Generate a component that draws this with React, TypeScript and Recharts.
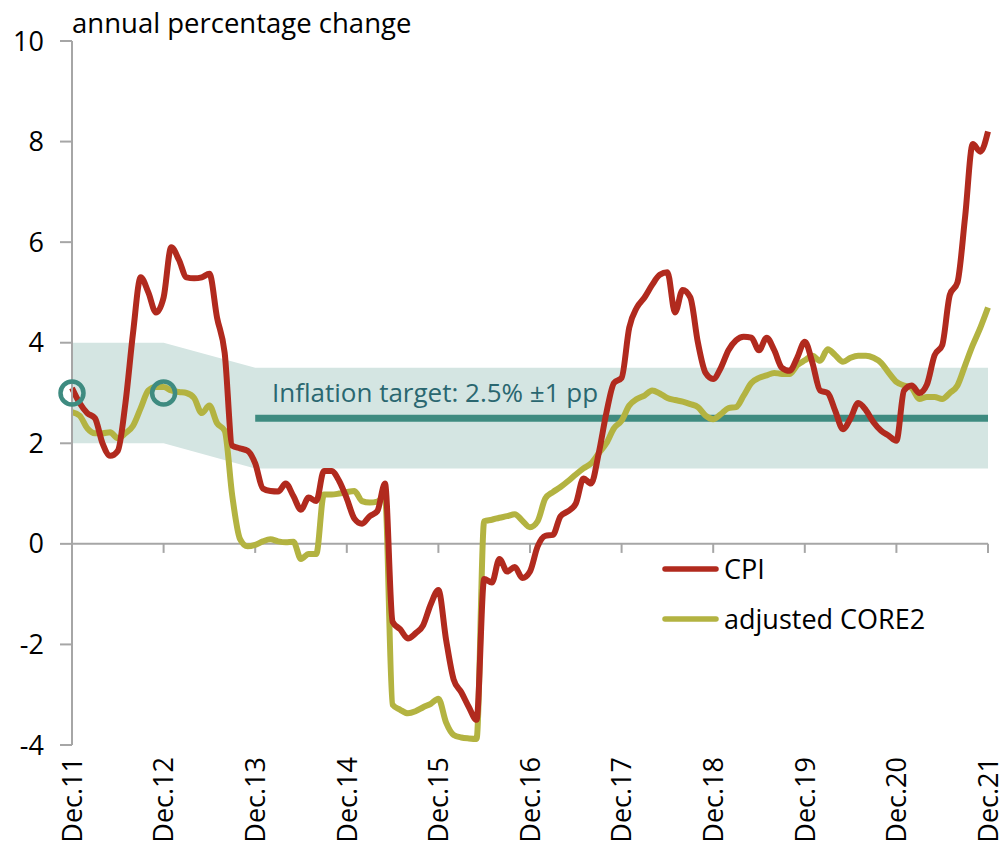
import React from "react";
import { ComposedChart, Line, Area, XAxis, YAxis, ReferenceLine } from "recharts";

// monthly, Dec 2011 .. Dec 2021 (121 points)
const tickIdx = [0, 12, 24, 36, 48, 60, 72, 84, 96, 108, 120];
const tickLabels = ["Dec.11", "Dec.12", "Dec.13", "Dec.14", "Dec.15", "Dec.16", "Dec.17", "Dec.18", "Dec.19", "Dec.20", "Dec.21"];
const yTicks = [-4, -2, 0, 2, 4, 6, 8, 10];

const cpi = [
  3.1, 2.8, 2.6, 2.5, 2.0, 1.75, 1.85, 2.8, 4.2, 5.3, 5.0, 4.6,
  4.9, 5.9, 5.65, 5.3, 5.28, 5.3, 5.37, 4.5, 3.8, 1.95, 1.9, 1.85,
  1.6, 1.1, 1.05, 1.04, 1.2, 0.95, 0.68, 0.92, 0.85, 1.45, 1.45, 1.25,
  0.9, 0.5, 0.4, 0.55, 0.65, 1.2, -1.55, -1.7, -1.88, -1.78, -1.62, -1.2,
  -0.92, -1.9, -2.7, -2.95, -3.25, -3.5, -0.7, -0.77, -0.3, -0.55, -0.46, -0.68,
  -0.55, -0.05, 0.16, 0.18, 0.55, 0.65, 0.8, 1.3, 1.2, 1.8, 2.6, 3.2,
  3.3, 4.3, 4.7, 4.9, 5.15, 5.35, 5.4, 4.6, 5.05, 4.9, 4.0, 3.4,
  3.28, 3.5, 3.85, 4.05, 4.12, 4.1, 3.85, 4.1, 3.85, 3.5, 3.44, 3.7,
  4.02, 3.6, 3.05, 3.0, 2.64, 2.28, 2.5, 2.8, 2.66, 2.42, 2.25, 2.15,
  2.05, 3.05, 3.15, 3.0, 3.17, 3.75, 3.95, 4.95, 5.2, 6.5, 7.95, 7.8,
  8.2,
];

const core2 = [
  2.62, 2.55, 2.3, 2.2, 2.2, 2.22, 2.1, 2.2, 2.35, 2.7, 3.05, 3.12,
  3.12, 3.05, 3.02, 3.0, 2.9, 2.6, 2.75, 2.4, 2.25, 0.95, 0.1, -0.05,
  -0.02, 0.05, 0.09, 0.05, 0.03, 0.04, -0.3, -0.2, -0.2, 0.98, 0.98, 1.0,
  1.03, 1.05, 0.85, 0.82, 0.84, 0.95, -3.2, -3.3, -3.37, -3.33, -3.25, -3.18,
  -3.08, -3.55, -3.8, -3.85, -3.87, -3.88, 0.45, 0.48, 0.52, 0.55, 0.59, 0.46,
  0.33, 0.45, 0.9, 1.03, 1.13, 1.25, 1.38, 1.5, 1.6, 1.8, 2.0, 2.3,
  2.45, 2.75, 2.88, 2.95, 3.05, 2.99, 2.9, 2.86, 2.83, 2.78, 2.72, 2.55,
  2.48, 2.58, 2.7, 2.72, 2.95, 3.2, 3.3, 3.35, 3.4, 3.38, 3.38, 3.55,
  3.65, 3.74, 3.64, 3.87, 3.75, 3.62, 3.7, 3.74, 3.74, 3.7, 3.6, 3.4,
  3.22, 3.15, 3.1, 2.88, 2.92, 2.92, 2.88, 3.0, 3.15, 3.55, 3.95, 4.3,
  4.7,
];

// tolerance band corners (3% ±1 until Dec.12, 2.5% ±1 from Dec.13)
const bandIdx = [0, 12, 24, 120];
const bandLow = [2, 2, 1.5, 1.5];
const bandHigh = [4, 4, 3.5, 3.5];
const targetIdx = [24, 120];
const targetVal = [2.5, 2.5];
const oldTargetIdx = [0, 12];
const oldTargetVal = [3, 3];

const data = cpi.map((v, i) => {
  const b = bandIdx.indexOf(i);
  const t = targetIdx.indexOf(i);
  const o = oldTargetIdx.indexOf(i);
  return {
    i,
    cpi: v,
    core2: core2[i],
    band: b >= 0 ? [bandLow[b], bandHigh[b]] : null,
    target: t >= 0 ? targetVal[t] : null,
    old: o >= 0 ? oldTargetVal[o] : null,
  };
});

const FONT = "Open Sans";
const RED = "#b12a1e";
const OLIVE = "#b3b341";
const TEAL = "#3e8b80";
const AXIS = "#a6a6a6";

const XTick = (props: any) => {
  const { x, y, payload } = props;
  return (
    <text
      transform={`translate(${x},${y + 4}) rotate(-90)`}
      textAnchor="end"
      dy="0.36em"
      fontSize={27}
      fontFamily={FONT}
      fill="#000"
    >
      {tickLabels[tickIdx.indexOf(payload.value)]}
    </text>
  );
};

const Ring = (props: any) => {
  const { cx, cy, value } = props;
  if (value == null) return null;
  return <circle cx={cx} cy={cy} r={11.5} fill="none" stroke={TEAL} strokeWidth={4.5} />;
};

// text and legend drawn on top of the chart
const Overlay = () => (
  <svg
    width={1005}
    height={856}
    style={{ position: "absolute", left: 0, top: 0, pointerEvents: "none" }}
  >
    <g fontFamily={FONT}>
      <text x={72} y={33} fontSize={27.5} fill="#000">annual percentage change</text>
      <text x={272} y={402} fontSize={26} fill="#2a6770">Inflation target: 2.5% ±1 pp</text>
      <line x1={665} y1={569} x2={716} y2={569} stroke={RED} strokeWidth={5.5} strokeLinecap="round" />
      <text x={724} y={569} dy="0.36em" fontSize={27} fill="#000">CPI</text>
      <line x1={665} y1={619} x2={716} y2={619} stroke={OLIVE} strokeWidth={5.5} strokeLinecap="round" />
      <text x={724} y={619} dy="0.36em" fontSize={27} fill="#000">adjusted CORE2</text>
    </g>
  </svg>
);

export default function App() {
  return (
    <div style={{ position: "absolute", left: 0, top: 0, width: 1005, height: 856, background: "#fff" }}>
      <ComposedChart
        width={1005}
        height={856}
        data={data}
        margin={{ top: 41, right: 17, bottom: 0, left: 0 }}
      >
        <XAxis
          dataKey="i"
          type="number"
          domain={[0, 120]}
          ticks={tickIdx}
          interval={0}
          axisLine={false}
          tickLine={false}
          height={111}
          tick={<XTick />}
        />
        <YAxis
          type="number"
          domain={[-4, 10]}
          ticks={yTicks}
          interval={0}
          width={72}
          tickSize={12}
          tickMargin={16}
          axisLine={{ stroke: AXIS, strokeWidth: 2 }}
          tickLine={{ stroke: AXIS, strokeWidth: 2 }}
          tick={{ fontSize: 27, fill: "#000", fontFamily: FONT }}
        />
        <Area
          dataKey="band"
          type="linear"
          connectNulls
          stroke="none"
          fill="#d4e5e2"
          fillOpacity={1}
          isAnimationActive={false}
          dot={false}
          activeDot={false}
        />
        <ReferenceLine y={0} stroke={AXIS} strokeWidth={2} />
        {tickIdx.map((t) => (
          <ReferenceLine
            key={t}
            segment={[{ x: t, y: 0 }, { x: t, y: -0.18 }]}
            stroke={AXIS}
            strokeWidth={2}
          />
        ))}
        <Line
          dataKey="target"
          type="linear"
          connectNulls
          stroke={TEAL}
          strokeWidth={7}
          dot={false}
          activeDot={false}
          isAnimationActive={false}
        />
        <Line
          dataKey="old"
          stroke="none"
          dot={<Ring />}
          activeDot={false}
          isAnimationActive={false}
        />
        <Line
          dataKey="core2"
          type="monotone"
          stroke={OLIVE}
          strokeWidth={6}
          dot={false}
          activeDot={false}
          isAnimationActive={false}
        />
        <Line
          dataKey="cpi"
          type="monotone"
          stroke={RED}
          strokeWidth={6}
          dot={false}
          activeDot={false}
          isAnimationActive={false}
        />
      </ComposedChart>
      <Overlay />
    </div>
  );
}
